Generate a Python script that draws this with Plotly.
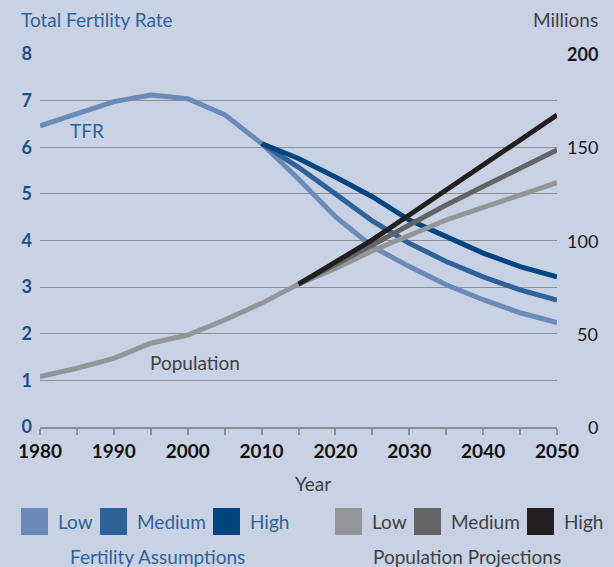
import plotly.graph_objects as go

W, H = 614, 567
L, R, T, B = 40, 57, 54, 140

years = [1980, 1985, 1990, 1995, 2000, 2005, 2010, 2015, 2020, 2025, 2030, 2035, 2040, 2045, 2050]

# Total fertility rate (left axis): shared history to 2010, then assumptions
tfr_common = [6.46, 6.73, 6.98, 7.12, 7.04, 6.70, 6.08]
tfr_low = [5.32, 4.51, 3.87, 3.44, 3.05, 2.73, 2.45, 2.24]
tfr_medium = [5.57, 5.00, 4.42, 3.94, 3.55, 3.22, 2.94, 2.72]
tfr_high = [5.76, 5.36, 4.94, 4.44, 4.08, 3.73, 3.44, 3.22]

# Population, millions (right axis): shared to 2015, then projections
pop_common = [27.0, 31.5, 36.8, 44.9, 49.3, 57.4, 66.3, 76.6]
pop_low = [85.0, 94.5, 103.0, 111.0, 117.8, 124.4, 131.0]
pop_medium = [86.9, 97.6, 108.3, 119.0, 128.9, 138.7, 148.5]
pop_high = [88.6, 100.3, 113.7, 127.0, 140.5, 154.0, 167.3]

left_ticks = [0, 1, 2, 3, 4, 5, 6, 7, 8]
right_ticks = [0, 50, 100, 150, 200]
x_ticks = [1980, 1990, 2000, 2010, 2020, 2030, 2040, 2050]

tfr_colors = {"Low": "#6a8ab8", "Medium": "#2f6298", "High": "#00457f"}
pop_colors = {"Low": "#949598", "Medium": "#646466", "High": "#231f20"}
bg = "#c9d2e5"
FONT = "Lato"
FS = 19

fig = go.Figure()
pop_proj_years = years[7:]
for name, vals in [("Low", pop_low), ("Medium", pop_medium), ("High", pop_high)]:
    fig.add_trace(go.Scatter(x=pop_proj_years, y=[pop_common[-1]] + vals, mode="lines",
                             line=dict(color=pop_colors[name], width=5), yaxis="y2",
                             showlegend=False, hoverinfo="skip"))
fig.add_trace(go.Scatter(x=years[:8], y=pop_common, mode="lines",
                         line=dict(color=pop_colors["Low"], width=5), yaxis="y2",
                         showlegend=False, hoverinfo="skip"))
tfr_proj_years = years[6:]
for name, vals in [("Low", tfr_low), ("Medium", tfr_medium), ("High", tfr_high)]:
    fig.add_trace(go.Scatter(x=tfr_proj_years, y=[tfr_common[-1]] + vals, mode="lines",
                             line=dict(color=tfr_colors[name], width=5),
                             showlegend=False, hoverinfo="skip"))
fig.add_trace(go.Scatter(x=years[:7], y=tfr_common, mode="lines",
                         line=dict(color=tfr_colors["Low"], width=5),
                         showlegend=False, hoverinfo="skip"))

pw, ph = W - L - R, H - T - B
def px(x):
    return (x - L) / pw
def py(y):
    return (H - B - y) / ph

shapes = []
annotations = []
legend_items = [
    (21, "Low", tfr_colors["Low"], "#2f6298"),
    (100, "Medium", tfr_colors["Medium"], "#2f6298"),
    (213, "High", tfr_colors["High"], "#2f6298"),
    (335, "Low", pop_colors["Low"], "#404042"),
    (414, "Medium", pop_colors["Medium"], "#404042"),
    (527, "High", pop_colors["High"], "#404042"),
]
for x0, label, col, tcol in legend_items:
    shapes.append(dict(type="rect", xref="paper", yref="paper",
                       x0=px(x0), x1=px(x0 + 27), y0=py(535), y1=py(508),
                       fillcolor=col, line=dict(width=0)))
    annotations.append(dict(text=label, xref="paper", yref="paper", x=px(x0 + 35), y=py(521),
                            xanchor="left", yanchor="middle", showarrow=False,
                            font=dict(family=FONT, size=FS, color=tcol)))

# right-axis labels, right-aligned like the reference
for v in right_ticks:
    annotations.append(dict(text=str(v), xref="paper", yref="y2", x=px(600), y=v,
                            xanchor="right", yanchor="middle", showarrow=False,
                            font=dict(family=FONT, size=18, color="#1a1a1a",
                                      weight="bold" if v == 200 else "normal")))

annotations += [
    dict(text="Fertility Assumptions", xref="paper", yref="paper", x=px(157), y=py(556),
         xanchor="center", yanchor="middle", showarrow=False,
         font=dict(family=FONT, size=FS, color="#2f6298")),
    dict(text="Population Projections", xref="paper", yref="paper", x=px(467), y=py(556),
         xanchor="center", yanchor="middle", showarrow=False,
         font=dict(family=FONT, size=FS, color="#404042")),
    dict(text="Total Fertility Rate", xref="paper", yref="paper", x=px(19), y=py(20),
         xanchor="left", yanchor="middle", showarrow=False,
         font=dict(family=FONT, size=FS, color="#2f6298")),
    dict(text="Millions", xref="paper", yref="paper", x=px(600), y=py(20),
         xanchor="right", yanchor="middle", showarrow=False,
         font=dict(family=FONT, size=FS, color="#404042")),
    dict(text="Year", xref="paper", yref="paper", x=px(313), y=py(483),
         xanchor="center", yanchor="middle", showarrow=False,
         font=dict(family=FONT, size=FS, color="#404042")),
    dict(text="TFR", x=1986.4, y=6.35, xref="x", yref="y", showarrow=False,
         font=dict(family=FONT, size=FS, color="#2f6298")),
    dict(text="Population", x=2001.0, y=1.38, xref="x", yref="y", showarrow=False,
         font=dict(family=FONT, size=FS, color="#404042")),
]

fig.update_layout(
    width=W, height=H, margin=dict(l=L, r=R, t=T, b=B),
    paper_bgcolor=bg, plot_bgcolor=bg,
    shapes=shapes, annotations=annotations,
    xaxis=dict(range=[1980, 2050], tickvals=x_ticks, ticktext=[str(v) for v in x_ticks],
               showgrid=False, zeroline=False, showline=True, linecolor="#8e8e90", linewidth=1.5,
               ticks="outside", ticklen=6, tickcolor="#8e8e90", tickwidth=1.5,
               minor=dict(dtick=5, tick0=1980, ticks="outside", ticklen=6, tickcolor="#8e8e90",
                          tickwidth=1.5, showgrid=False),
               tickfont=dict(family=FONT, size=19, color="#111111", weight="bold")),
    yaxis=dict(range=[0, 8], tickvals=left_ticks, showgrid=True, gridcolor="#8e8e90", gridwidth=1.2,
               zeroline=False, showline=False, ticks="", ticklabelstandoff=7,
               tickfont=dict(family=FONT, size=18, color="#1f4e86", weight="bold")),
    yaxis2=dict(range=[0, 200], tickvals=right_ticks, overlaying="y", side="right",
                showgrid=False, zeroline=False, showline=False, ticks="",
                showticklabels=False),
)

fig.write_html("out.html", config={"displayModeBar": False},
               post_script="document.body.style.margin='0';document.body.style.background='%s';" % bg)
